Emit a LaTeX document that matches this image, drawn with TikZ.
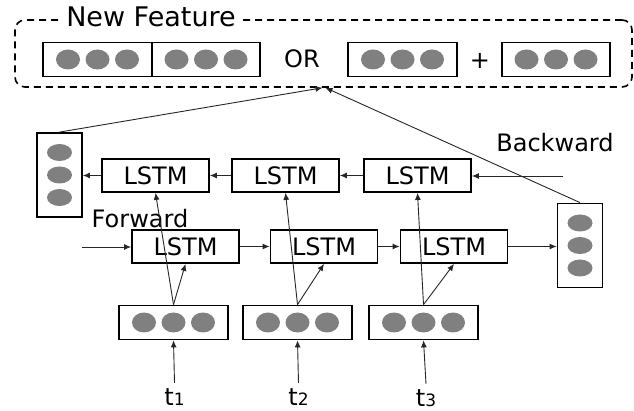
\documentclass[tikz,border=0pt]{standalone}
\usepackage{fontspec}
\setmainfont{DejaVu Sans}
\usetikzlibrary{arrows.meta}

\newcommand{\tsub}[1]{t{\fontsize{17}{20}\selectfont #1}}

\tikzset{
  lstm/.style={draw, line width=1.8pt, minimum width=107pt, minimum height=33pt, inner sep=0pt, font=\fontsize{24}{27}\selectfont},
  vec/.style={draw, line width=1.8pt, minimum width=109pt, minimum height=34pt, inner sep=0pt},
  vvec/.style={draw, line width=1.8pt, minimum width=45pt, minimum height=84pt, inner sep=0pt},
  dot/.style={fill=black!50},
  arr/.style={-{Latex[length=7pt,width=6pt]}, line width=0.9pt, black!85},
  lbl/.style={font=\fontsize{24}{28}\selectfont, inner sep=1pt},
  tlbl/.style={font=\fontsize{24}{28}\selectfont, inner sep=5pt, anchor=base},
}

\begin{document}
\begin{tikzpicture}[x=1pt, y=-1pt]
\useasboundingbox (0,0) rectangle (634,411);
\node[draw, dash pattern=on 7pt off 5pt, line width=1.6pt, rounded corners=10pt, minimum width=617pt, minimum height=67pt] (feat) at (323.5,53.5) {};
\node[lbl, fill=white, inner xsep=6pt, font=\fontsize{27}{31}\selectfont] (title) at (151,17) {New Feature};
\node[vec] (c1) at (97.5,59.5) {};
\node[vec, minimum width=108pt] (c2) at (206,59.5) {};
\node[lbl] (or) at (302,59) {OR};
\node[vec] (a1) at (402.5,59.5) {};
\node[lbl] (plus) at (480,61) {+};
\node[vec, minimum width=108pt] (a2) at (556,59.5) {};
\node[lbl] (bw) at (555,143) {Backward};
\node[lbl] (fw) at (140,219) {Forward};
\node[lstm] (b1) at (155.5,175.5) {LSTM};
\node[lstm] (b2) at (285.5,175.5) {LSTM};
\node[lstm] (b3) at (417.5,175.5) {LSTM};
\node[lstm] (f1) at (185.5,246.5) {LSTM};
\node[lstm] (f2) at (324,246.5) {LSTM};
\node[lstm] (f3) at (454,246.5) {LSTM};
\node[vvec] (hl) at (59.5,175) {};
\node[vvec] (hr) at (580,245.5) {};
\node[vec] (x1) at (173.5,322.5) {};
\node[vec] (x2) at (297.5,322.5) {};
\node[vec] (x3) at (423.5,322.5) {};
\node[tlbl] (t1) at (174.5,405) {\tsub{1}};
\node[tlbl] (t2) at (298.5,405) {\tsub{2}};
\node[tlbl] (t3) at (426,406) {\tsub{3}};
\foreach \v in {c1,c2,a1,a2,x1,x2,x3}
  \foreach \k in {-1,0,1}
    \fill[dot] ([xshift=\k*29.5pt]\v.center) ellipse (12pt and 10pt);
\foreach \v in {hl,hr}
  \foreach \k in {-1,0,1}
    \fill[dot] ([yshift=\k*22.5pt]\v.center) ellipse (12.5pt and 8.5pt);
\coordinate (bin) at (563,176);
\coordinate (fin) at (82,247);
\draw[arr] (bin) -- (bin -| b3.east);
\draw[arr] (b3) -- (b2);
\draw[arr] (b2) -- (b1);
\draw[arr] (b1.west) -- (b1.west -| hl.east);
\draw[arr] (fin) -- (fin -| f1.west);
\draw[arr] (f1) -- (f2);
\draw[arr] (f2) -- (f3);
\draw[arr] (f3.east) -- (f3.east -| hr.west);
\foreach \i in {1,2,3} {
  \draw[arr] (x\i.north) -- (b\i.south);
  \draw[arr] (x\i.north) -- (f\i.south);
  \draw[arr] (t\i.north) -- (x\i.south);
}
\draw[arr] (hl.north) -- ([xshift=-1pt]feat.south);
\draw[arr] (hr.north) -- ([xshift=2pt]feat.south);
\end{tikzpicture}
\end{document}
